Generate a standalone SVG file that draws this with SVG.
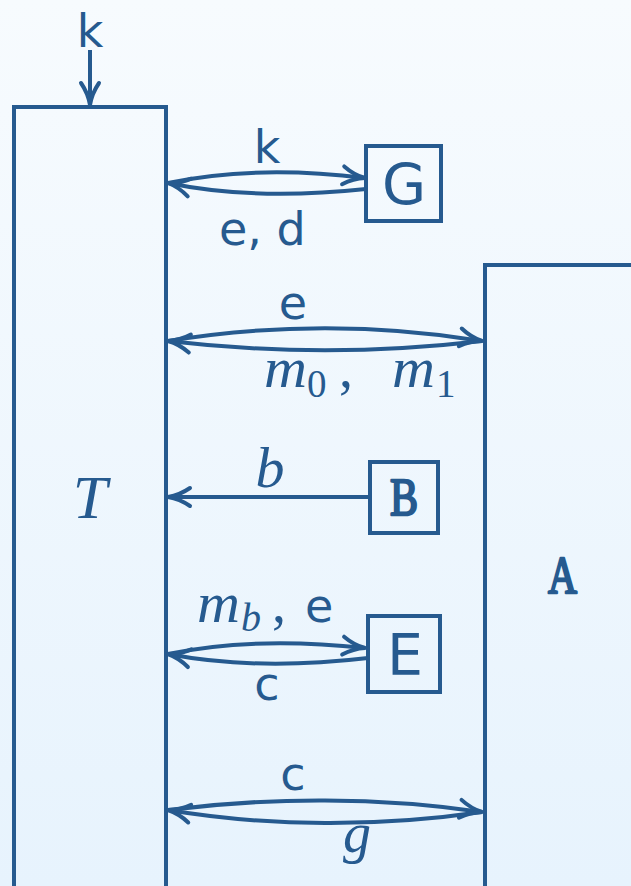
<svg xmlns="http://www.w3.org/2000/svg" width="631" height="886" viewBox="0 0 631 886">
  <defs>
    <linearGradient id="bg" x1="0" y1="0" x2="0" y2="1">
      <stop offset="0" stop-color="#f7fbfe"/>
      <stop offset="1" stop-color="#e7f3fd"/>
    </linearGradient>
    <marker id="to" markerUnits="userSpaceOnUse" markerWidth="40" markerHeight="40" viewBox="-30 -20 40 40" refX="0" refY="0" orient="auto" overflow="visible">
      <path d="M-22,-9 C-14,-3.5 -5,-0.8 0,0 C-5,0.8 -14,3.5 -22,9" fill="none" stroke="#265a8f" stroke-width="4" stroke-linecap="round" stroke-linejoin="round"/>
    </marker>
    <style>
      .box { fill: none; stroke: #265a8f; stroke-width: 4; }
      .edge { fill: none; stroke: #265a8f; stroke-width: 4; marker-end: url(#to); }
      .sans { font-family: "DejaVu Sans", sans-serif; fill: #265a8f; }
      .lbl { font-size: 46px; }
      .big { font-size: 57px; }
      .math { font-family: "Liberation Serif", serif; font-style: italic; fill: #265a8f; }
      .up { font-style: normal; }
      .tt { font-family: "Liberation Serif", serif; font-size: 53px; fill: #265a8f; stroke: #265a8f; stroke-width: 2.4; stroke-linejoin: round; }
    </style>
  </defs>

  <rect x="0" y="0" width="631" height="886" fill="url(#bg)"/>

  <!-- component T -->
  <g id="T">
    <path class="box" d="M14,890 V107 H166 V890"/>
    <text class="math" x="90" y="518" font-size="62" text-anchor="middle">T</text>
  </g>

  <!-- component A -->
  <g id="A">
    <path class="box" d="M485,890 V265 H635"/>
    <text class="tt" x="548" y="593" textLength="29" lengthAdjust="spacingAndGlyphs">A</text>
  </g>

  <!-- component G -->
  <g id="G">
    <rect class="box" x="366" y="146" width="75" height="75"/>
    <text class="sans big" x="404" y="205" text-anchor="middle">G</text>
  </g>

  <!-- component B -->
  <g id="B">
    <rect class="box" x="370" y="462" width="68" height="71"/>
    <text class="tt" x="390" y="515" textLength="28" lengthAdjust="spacingAndGlyphs">B</text>
  </g>

  <!-- component E -->
  <g id="E">
    <rect class="box" x="368" y="616" width="72" height="76"/>
    <text class="sans big" x="405" y="675" text-anchor="middle">E</text>
  </g>

  <!-- connectors -->
  <g id="connectors">
    <!-- key input -->
    <path class="edge" d="M90,50 V105"/>
    <!-- T <-> G -->
    <path class="edge" d="M168,183 C230,170 300,170 365,178"/>
    <path class="edge" d="M366,189 C300,196 230,196 168,183"/>
    <!-- T <-> A (e / m0, m1) -->
    <path class="edge" d="M168,341 C270,324 380,324 482,341"/>
    <path class="edge" d="M482,341 C380,353 270,353 168,341"/>
    <!-- B -> T -->
    <path class="edge" d="M370,497 H168"/>
    <!-- T <-> E -->
    <path class="edge" d="M168,654 C230,641 300,641 365,648"/>
    <path class="edge" d="M368,658 C300,666 230,666 168,654"/>
    <!-- T <-> A (c / g) -->
    <path class="edge" d="M168,810 C270,797 380,797 482,812"/>
    <path class="edge" d="M482,812 C380,827 270,827 168,810"/>
  </g>

  <!-- connector labels -->
  <g id="labels">
    <text class="sans lbl" x="90" y="47" text-anchor="middle">k</text>
    <text class="sans lbl" x="267" y="163" text-anchor="middle">k</text>
    <text class="sans lbl" x="219" y="245">e, d</text>
    <text class="sans lbl" x="293" y="319" text-anchor="middle">e</text>

    <text class="math" x="264" y="387" font-size="56" textLength="43" lengthAdjust="spacingAndGlyphs">m</text>
    <text class="math up" x="307" y="397" font-size="39">0</text>
    <text class="math up" x="339" y="387" font-size="56">,</text>
    <text class="math" x="392" y="387" font-size="56" textLength="43" lengthAdjust="spacingAndGlyphs">m</text>
    <text class="math up" x="436" y="397" font-size="39">1</text>

    <text class="math" x="270" y="487" font-size="58" text-anchor="middle">b</text>

    <text class="math" x="197" y="622" font-size="56" textLength="43" lengthAdjust="spacingAndGlyphs">m</text>
    <text class="math" x="241" y="631" font-size="40">b</text>
    <text class="math up" x="272" y="622" font-size="56">,</text>
    <text class="sans lbl" x="305" y="622">e</text>

    <text class="sans lbl" x="267" y="700" text-anchor="middle">c</text>
    <text class="sans lbl" x="293" y="790" text-anchor="middle">c</text>
    <text class="math" x="357" y="852" font-size="56" text-anchor="middle">g</text>
  </g>
</svg>
